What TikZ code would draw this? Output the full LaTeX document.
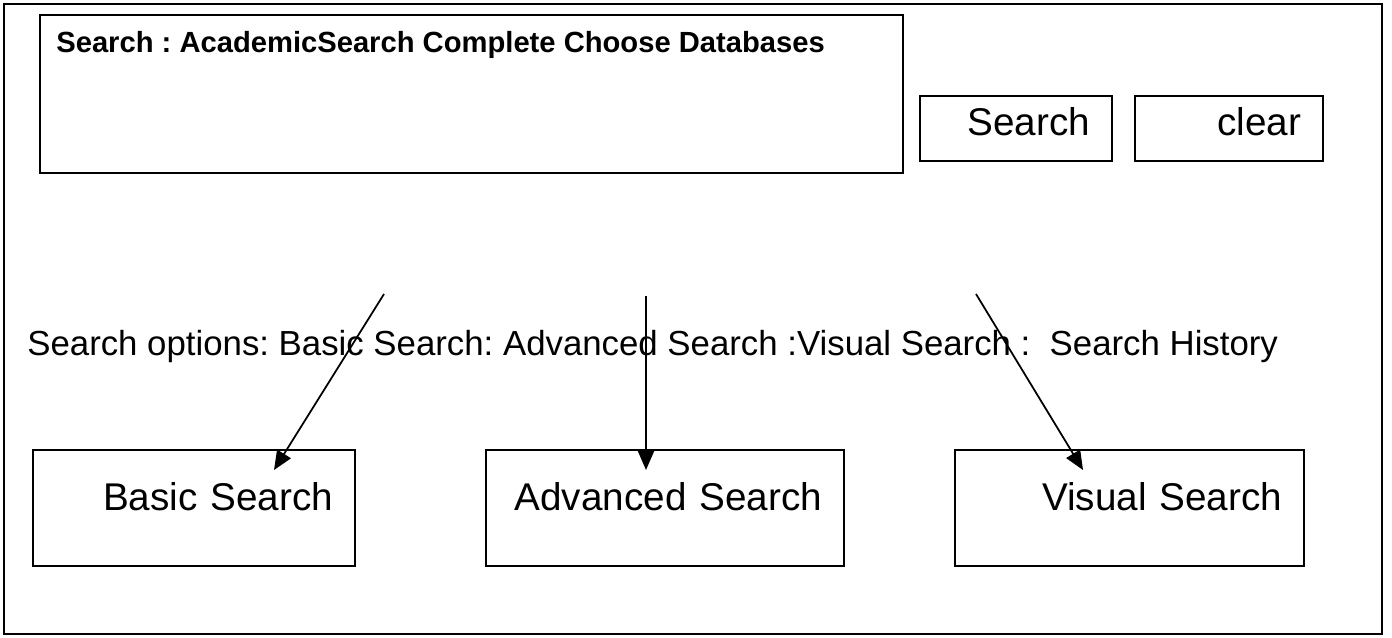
\documentclass[tikz,border=0pt]{standalone}
\usepackage{fontspec}
\setmainfont{Liberation Sans}
\usetikzlibrary{arrows.meta}
\frenchspacing

\tikzset{
    panel/.style={draw, line width=0.8pt, align=right, inner xsep=4.4mm, inner ysep=0pt,
        minimum height=23.2mm, text height=5.6mm, text depth=4.8mm,
        font=\fontsize{22}{26}\selectfont},
    button/.style={panel, line width=0.6pt, minimum height=13mm, text depth=3mm},
    >={Triangle[length=3.8mm,width=3.2mm]}
}

\begin{document}
\begin{tikzpicture}[x=0.2mm, y=-0.2mm]
    \useasboundingbox (0,0) rectangle (1392,637);
    \node[draw, line width=1.2pt, minimum width=275.6mm, minimum height=126mm, inner sep=0pt] at (693, 319)(frame){};

    % database bar and buttons
    \node[draw, line width=1.2pt, minimum width=172.6mm, minimum height=31.6mm, inner sep=0pt] at (471.5, 94)(dbbox){};
    \node[anchor=base west, inner sep=0pt, font=\bfseries\fontsize{16.6}{20}\selectfont] at (56, 52)(dbtext){Search : AcademicSearch Complete Choose Databases};
    \node[button, text width=29.6mm] at (1016, 128.5)(search){Search};
    \node[button, text width=28.8mm] at (1229, 128.5)(clear){clear};

    \node[anchor=base west, inner sep=0pt, font=\fontsize{19.8}{24}\selectfont] at (27, 355)(options){Search options: Basic Search: Advanced Search :Visual Search :\ \ Search History};

    % search pages
    \node[panel, text width=55.6mm] at (194, 508)(basic){Basic Search};
    \node[panel, text width=62.8mm] at (665, 508)(advanced){Advanced Search};
    \node[panel, text width=61mm] at (1129.5, 508)(visual){Visual Search};

    \coordinate (b0) at (384, 294);
    \coordinate (b1) at (274, 470);
    \coordinate (a0) at (646, 296);
    \coordinate (a1) at (646, 470);
    \coordinate (v0) at (976, 294);
    \coordinate (v1) at (1083, 470);

    \path[->, line width=1pt]
        (b0) edge (b1)
        (a0) edge (a1)
        (v0) edge (v1)
        ;
\end{tikzpicture}
\end{document}
